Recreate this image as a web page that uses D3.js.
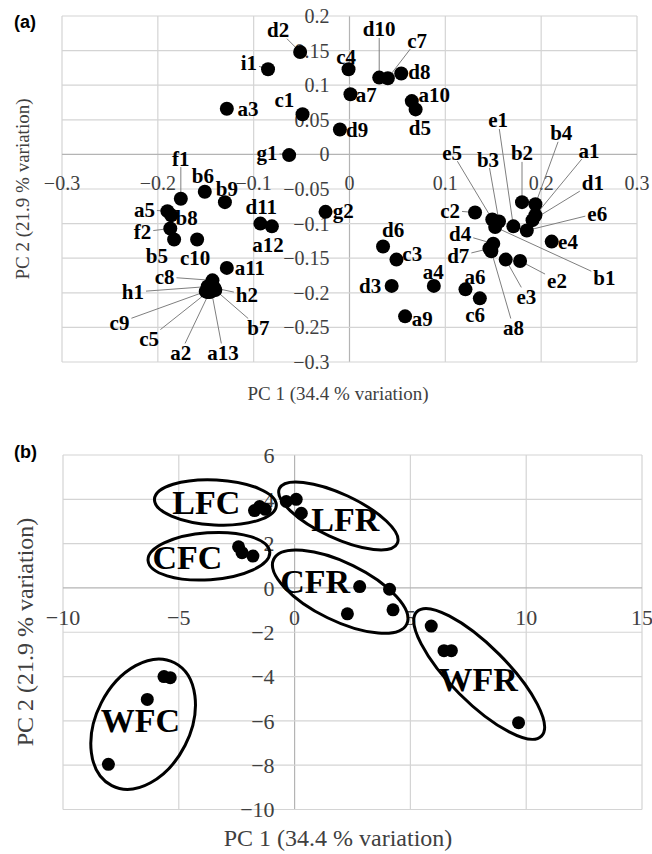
<!DOCTYPE html>
<html>
<head>
<meta charset="utf-8">
<script src="https://cdn.jsdelivr.net/npm/d3@7"></script>
<style>
  body { margin: 0; background: #fff; }
  svg { display: block; }
  text { font-family: "Liberation Serif", "Times New Roman", serif; }
</style>
</head>
<body>
<div id="chart"></div>
<script>
// ---------- Panel (a): sample scores ----------
const sampleNames = ["a1","a2","a3","a4","a5","a6","a7","a8","a9","a10","a11","a12","a13",
  "b1","b2","b3","b4","b5","b6","b7","b8","b9",
  "c1","c2","c3","c4","c5","c6","c7","c8","c9","c10",
  "d1","d2","d3","d4","d5","d6","d7","d8","d9","d10","d11",
  "e1","e2","e3","e4","e5","e6","f1","f2","g1","g2","h1","h2","i1"];
const pc1Scores = [0.194,-0.146,-0.128,0.088,-0.190,0.121,0.001,0.148,0.058,0.065,-0.128,-0.081,-0.144,
  0.152,0.180,0.156,0.194,-0.183,-0.151,-0.140,-0.186,-0.130,
  -0.049,0.131,0.049,-0.001,-0.148,0.136,0.040,-0.143,-0.150,-0.159,
  0.191,-0.0515,0.044,0.150,0.069,0.035,0.146,0.054,-0.010,0.031,-0.093,
  0.171,0.178,0.163,0.211,0.149,0.185,-0.176,-0.187,-0.063,-0.025,-0.148,-0.141,-0.085];
const pc2Scores = [-0.088,-0.199,0.066,-0.190,-0.082,-0.195,0.087,-0.140,-0.234,0.077,-0.164,-0.104,-0.198,
  -0.105,-0.069,-0.097,-0.072,-0.123,-0.054,-0.196,-0.088,-0.069,
  0.058,-0.084,-0.152,0.123,-0.199,-0.208,0.110,-0.182,-0.198,-0.123,
  -0.095,0.148,-0.190,-0.129,0.065,-0.133,-0.136,0.117,0.036,0.111,-0.100,
  -0.104,-0.154,-0.152,-0.126,-0.094,-0.110,-0.064,-0.107,-0.001,-0.083,-0.191,-0.193,0.123];

// where each sample label sits (in PC units) and whether it has a leader line
const labelX = [0.250,-0.176,-0.106,0.0875,-0.214,0.131,0.0175,0.171,0.076,0.0885,-0.104,-0.085,-0.132,
  0.266,0.180,0.1445,0.221,-0.201,-0.153,-0.095,-0.170,-0.128,
  -0.068,0.105,0.0655,-0.0035,-0.209,0.131,0.0705,-0.193,-0.240,-0.161,
  0.254,-0.0745,0.0215,0.1155,0.0735,0.0455,0.1135,0.073,0.008,0.031,-0.092,
  0.155,0.2165,0.1845,0.228,0.107,0.2585,-0.176,-0.216,-0.086,-0.0066,-0.226,-0.107,-0.105];
const labelY = [0.006,-0.286,0.066,-0.170,-0.080,-0.176,0.086,-0.250,-0.237,0.087,-0.164,-0.131,-0.286,
  -0.1775,0.002,-0.007,0.031,-0.146,-0.030,-0.250,-0.091,-0.049,
  0.079,-0.081,-0.144,0.141,-0.266,-0.232,0.165,-0.177,-0.243,-0.149,
  -0.0415,0.180,-0.190,-0.115,0.038,-0.109,-0.147,0.119,0.036,0.181,-0.076,
  0.0495,-0.182,-0.205,-0.1255,0.003,-0.085,-0.0055,-0.112,0.003,-0.082,-0.199,-0.203,0.132];
const hasLeader = [1,1,0,0,1,0,0,1,0,0,0,0,1,
  1,1,1,1,0,0,1,0,0,
  0,1,0,0,1,0,1,1,1,0,
  1,1,0,1,0,0,1,0,0,1,0,
  1,1,1,0,1,1,1,1,1,0,1,1,1];

const xTicksA = [-0.3,-0.2,-0.1,0,0.1,0.2,0.3];
const yTicksA = [0.2,0.15,0.1,0.05,0,-0.05,-0.1,-0.15,-0.2,-0.25,-0.3];

// ---------- Panel (b): group scores ----------
const groupNames = ["LFC","LFR","CFC","CFR","WFR","WFC"];
const groupPC1 = [
  [-1.73,-1.51,-1.27],
  [-0.36,0.07,0.29],
  [-2.42,-2.27,-1.80],
  [2.81,4.10,2.28,4.25],
  [5.90,6.45,6.77,9.67],
  [-5.64,-5.37,-6.36,-8.04]
];
const groupPC2 = [
  [3.49,3.67,3.55],
  [3.90,4.00,3.37],
  [1.86,1.59,1.44],
  [0.06,-0.06,-1.17,-0.99],
  [-1.72,-2.83,-2.83,-6.08],
  [-4.00,-4.05,-5.03,-7.96]
];
const xTicksB = [-10,-5,0,5,10,15];
const yTicksB = [6,4,2,0,-2,-4,-6,-8,-10];

// ellipse outlines and group-name placement (PC units, radii in px)
const ellipses = [
  {cx:-3.42, cy:3.86, rx:61, ry:22.5, rot:3,   tx:-3.81, ty:3.88},
  {cx:1.89,  cy:3.25, rx:65, ry:22,   rot:25,  tx:2.19,  ty:3.12},
  {cx:-3.70, cy:1.43, rx:61, ry:23.5, rot:-4,  tx:-4.63, ty:1.40},
  {cx:1.97,  cy:-0.17,rx:74, ry:29,   rot:26,  tx:0.89,  ty:0.32},
  {cx:7.97,  cy:-3.88,rx:88, ry:28,   rot:45,  tx:7.93,  ty:-4.11},
  {cx:-6.54, cy:-6.15,rx:69, ry:47,   rot:-63, tx:-6.66, ty:-5.96}
];

// ---------- setup ----------
const width = 652;
const height = 854;
const gridColor = "#d4d4d4";
const axisColor = "#b4b4b4";
const tickColor = "#404040";

const svg = d3.select("#chart").append("svg")
    .attr("width", width)
    .attr("height", height);

const xA = d3.scaleLinear().domain([-0.3, 0.3]).range([62, 637]);
const yA = d3.scaleLinear().domain([0.2, -0.3]).range([16, 362]);
const xB = d3.scaleLinear().domain([-10, 15]).range([63, 642]);
const yB = d3.scaleLinear().domain([6, -10]).range([455, 809.5]);

const fmt = d => String(d).replace("-", "\u2212");

// grid, zero axes and tick labels, Excel style
function drawFrame(g, x, y, xTicks, yTicks, fs) {
    const [y0, y1] = y.range();
    const [x0, x1] = x.range();
    g.selectAll(".vgrid").data(xTicks).enter().append("line")
        .attr("x1", d => x(d)).attr("x2", d => x(d))
        .attr("y1", y0).attr("y2", y1)
        .attr("stroke", d => d === 0 ? axisColor : gridColor)
        .attr("stroke-width", 1.2);
    g.selectAll(".hgrid").data(yTicks).enter().append("line")
        .attr("x1", x0).attr("x2", x1)
        .attr("y1", d => y(d)).attr("y2", d => y(d))
        .attr("stroke", d => d === 0 ? axisColor : gridColor)
        .attr("stroke-width", 1.2);

    g.selectAll(".xlab").data(xTicks).enter().append("text")
        .attr("x", d => x(d))
        .attr("y", y(0) + 29)
        .attr("dy", "0.35em")
        .attr("text-anchor", "middle")
        .style("font-size", fs + "px")
        .attr("fill", tickColor)
        .text(fmt);
    g.selectAll(".ylab").data(yTicks).enter().append("text")
        .attr("x", x(0) - 20)
        .attr("y", d => y(d))
        .attr("dy", "0.35em")
        .attr("text-anchor", "end")
        .style("font-size", fs + "px")
        .attr("fill", tickColor)
        .text(fmt);
}

// x title is placed by its baseline, y title by its centre
function axisTitles(g, cx, xBaseline, yTitleX, cy, fs) {
    g.append("text")
        .attr("x", cx).attr("y", xBaseline)
        .attr("text-anchor", "middle")
        .style("font-size", fs + "px")
        .attr("fill", tickColor)
        .text("PC 1 (34.4 % variation)");
    g.append("text")
        .attr("transform", "translate(" + yTitleX + "," + cy + ") rotate(-90)")
        .attr("dy", "0.35em")
        .attr("text-anchor", "middle")
        .style("font-size", fs + "px")
        .attr("fill", tickColor)
        .text("PC 2 (21.9 % variation)");
}

// ---------- panel (a) ----------
const gA = svg.append("g");
drawFrame(gA, xA, yA, xTicksA, yTicksA, 20);
axisTitles(gA, 338, 400, 22, 189, 19);

gA.append("text")
    .attr("x", 14).attr("y", 28)
    .style("font-family", "'Liberation Sans', Arial, sans-serif")
    .style("font-weight", "bold")
    .style("font-size", "18px")
    .text("(a)");

const leaderG = gA.append("g");
const dotG = gA.append("g");
const labelG = gA.append("g");

const samples = sampleNames.map((name, i) => ({
    name: name, pc1: pc1Scores[i], pc2: pc2Scores[i],
    lx: labelX[i], ly: labelY[i], leader: hasLeader[i]
}));

dotG.selectAll("circle").data(samples).enter().append("circle")
    .attr("cx", d => xA(d.pc1))
    .attr("cy", d => yA(d.pc2))
    .attr("r", 7)
    .attr("fill", "#000");

const labelFs = 21;
labelG.selectAll("text").data(samples).enter().append("text")
    .attr("x", d => xA(d.lx))
    .attr("y", d => yA(d.ly))
    .attr("dy", "0.35em")
    .attr("text-anchor", "middle")
    .style("font-size", labelFs + "px")
    .style("font-weight", "bold")
    .text(d => d.name)
    .each(function(d) { d.tw = this.getComputedTextLength(); });

// leader line runs from the label box edge to the point
samples.filter(d => d.leader).forEach(d => {
    const cx = xA(d.lx), cy = yA(d.ly);
    const px = xA(d.pc1), py = yA(d.pc2);
    const w = d.tw + 4, h = labelFs * 0.75 + 2;
    const dx = px - cx, dy = py - cy;
    const sx = dx === 0 ? Infinity : (w / 2) / Math.abs(dx);
    const sy = dy === 0 ? Infinity : (h / 2) / Math.abs(dy);
    const s = Math.min(sx, sy);
    if (s >= 1) return;
    leaderG.append("line")
        .attr("x1", cx + dx * s).attr("y1", cy + dy * s)
        .attr("x2", px).attr("y2", py)
        .attr("stroke", "#7f7f7f")
        .attr("stroke-width", 1);
});

// ---------- panel (b) ----------
const gB = svg.append("g");
drawFrame(gB, xB, yB, xTicksB, yTicksB, 22);
axisTitles(gB, 338, 846, 25, 632, 24);

gB.append("text")
    .attr("x", 14).attr("y", 458)
    .style("font-family", "'Liberation Sans', Arial, sans-serif")
    .style("font-weight", "bold")
    .style("font-size", "18px")
    .text("(b)");

const groups = groupNames.map((name, i) => ({
    name: name,
    points: groupPC1[i].map((v, j) => [v, groupPC2[i][j]]),
    shape: ellipses[i]
}));

gB.selectAll(".pt").data(groups.flatMap(g => g.points)).enter().append("circle")
    .attr("cx", d => xB(d[0]))
    .attr("cy", d => yB(d[1]))
    .attr("r", 6.5)
    .attr("fill", "#000");

gB.selectAll(".ell").data(groups).enter().append("ellipse")
    .attr("transform", d => "translate(" + xB(d.shape.cx) + "," + yB(d.shape.cy) + ") rotate(" + d.shape.rot + ")")
    .attr("rx", d => d.shape.rx)
    .attr("ry", d => d.shape.ry)
    .attr("fill", "none")
    .attr("stroke", "#000")
    .attr("stroke-width", 3);

gB.selectAll(".gname").data(groups).enter().append("text")
    .attr("x", d => xB(d.shape.tx))
    .attr("y", d => yB(d.shape.ty))
    .attr("dy", "0.35em")
    .attr("text-anchor", "middle")
    .style("font-size", "34px")
    .style("font-weight", "bold")
    .text(d => d.name);
</script>
</body>
</html>
